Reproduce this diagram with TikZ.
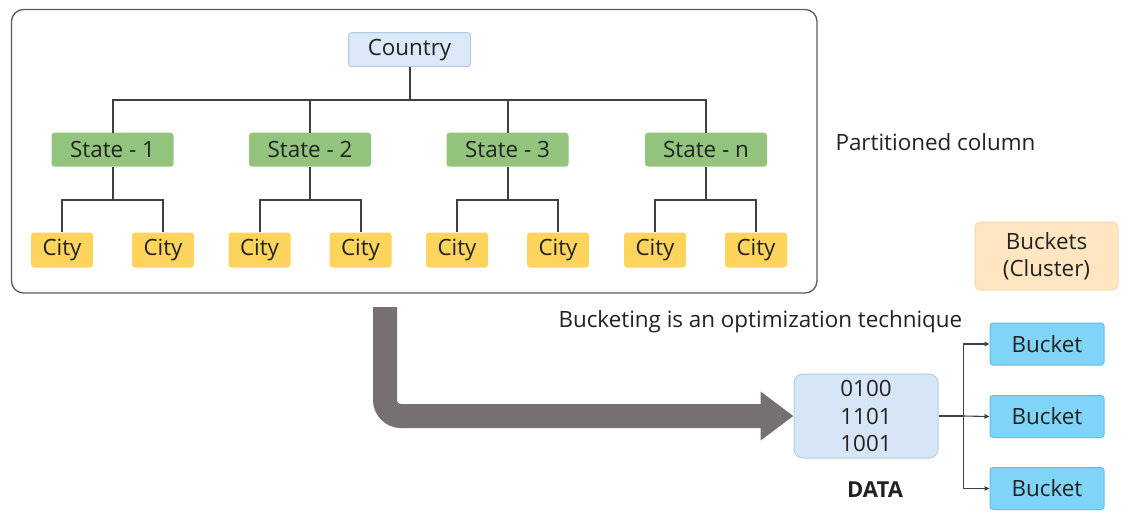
\documentclass[tikz,border=0pt]{standalone}
\usepackage{fontspec}
\setmainfont{Open Sans}
\usetikzlibrary{arrows.meta, positioning, calc}
\definecolor{framegray}{RGB}{90,90,90}
\definecolor{linegray}{RGB}{64,64,64}
\definecolor{textdark}{RGB}{34,34,34}
\definecolor{countryfill}{RGB}{218,232,248}
\definecolor{countryedge}{RGB}{176,203,232}
\definecolor{statefill}{RGB}{147,196,125}
\definecolor{cityfill}{RGB}{255,212,92}
\definecolor{clusterfill}{RGB}{255,230,192}
\definecolor{clusteredge}{RGB}{246,216,170}
\definecolor{datafill}{RGB}{214,230,246}
\definecolor{dataedge}{RGB}{180,205,230}
\definecolor{bucketfill}{RGB}{128,212,248}
\definecolor{bucketedge}{RGB}{96,190,235}
\definecolor{flowgray}{RGB}{118,113,112}

\tikzset{
    box/.style={inner sep=0pt, rounded corners=3pt, text=textdark, font=\fontsize{22.4}{26}\selectfont},
    countrybox/.style={box, fill=countryfill, draw=countryedge, line width=1pt, minimum width=122pt, minimum height=34pt},
    statebox/.style={box, fill=statefill, minimum width=122pt, minimum height=34pt},
    citybox/.style={box, fill=cityfill, minimum width=62pt, minimum height=35pt},
    bucketbox/.style={box, fill=bucketfill, draw=bucketedge, line width=1pt, minimum width=114pt, minimum height=42pt},
    tree/.style={linegray, line width=2pt},
    branch/.style={linegray, line width=1.1pt, -{Triangle[length=5pt, width=4.5pt]}}
}

\begin{document}
\begin{tikzpicture}[x=1pt, y=-1pt]
        \useasboundingbox (0,0) rectangle (1132,515);

        % Frame round the partition tree
        \draw[framegray, line width=1.3pt, rounded corners=12pt] (11.5,9.5) rectangle (817,293);

        % Tree nodes
        \node[countrybox] (country) at (409.5,49.7) {Country};

        \node[statebox] (state1) at (112.5,149.7) {State - 1};
        \node[statebox] (state2) at (310,149.7) {State - 2};
        \node[statebox] (state3) at (507.5,149.7) {State - 3};
        \node[statebox] (staten) at (706,149.7) {State - n};

        \node[citybox] (city1a) at (62,250) {City};
        \node[citybox] (city1b) at (163,250) {City};
        \node[citybox] (city2a) at (259.5,250) {City};
        \node[citybox] (city2b) at (360.5,250) {City};
        \node[citybox] (city3a) at (457,250) {City};
        \node[citybox] (city3b) at (558,250) {City};
        \node[citybox] (citya) at (655,250) {City};
        \node[citybox] (cityb) at (756,250) {City};

        % Country to states
        \draw[tree] (country.south) -- ++(0,32.3) -| (state1.north);
        \draw[tree] (country.south) -- ++(0,32.3) -| (state2.north);
        \draw[tree] (country.south) -- ++(0,32.3) -| (state3.north);
        \draw[tree] (country.south) -- ++(0,32.3) -| (staten.north);

        % States to cities
        \draw[tree] (state1.south) -- ++(0,32.6) -| (city1a.north);
        \draw[tree] (state1.south) -- ++(0,32.6) -| (city1b.north);
        \draw[tree] (state2.south) -- ++(0,32.6) -| (city2a.north);
        \draw[tree] (state2.south) -- ++(0,32.6) -| (city2b.north);
        \draw[tree] (state3.south) -- ++(0,32.6) -| (city3a.north);
        \draw[tree] (state3.south) -- ++(0,32.6) -| (city3b.north);
        \draw[tree] (staten.south) -- ++(0,32.6) -| (citya.north);
        \draw[tree] (staten.south) -- ++(0,32.6) -| (cityb.north);

        % Side labels
        \node[anchor=west, text=textdark, font=\fontsize{22.4}{26}\selectfont] (partlabel) at (832,142) {Partitioned column};
        \node[box, fill=clusterfill, draw=clusteredge, line width=1pt, rounded corners=6pt, minimum width=143pt, minimum height=68pt, align=center, font=\fontsize{22.4}{27}\selectfont] (cluster) at (1046.5,256) {Buckets\\(Cluster)};
        \node[anchor=west, text=textdark, font=\fontsize{22.4}{26}\selectfont] (bucketlabel) at (555,322) {Bucketing is an optimization technique};

        % Data and buckets
        \node[box, fill=datafill, draw=dataedge, line width=1pt, rounded corners=9pt, minimum width=144pt, minimum height=84pt, align=center, font=\fontsize{22.4}{27.5}\selectfont] (data) at (866,416) {0100\\1101\\1001};
        \node[text=textdark, font=\fontsize{22}{26}\selectfont\bfseries] (datalabel) at (875,490) {DATA};

        \node[bucketbox] (bucket1) at (1047,344) {Bucket};
        \node[bucketbox] (bucket2) at (1047,416.5) {Bucket};
        \node[bucketbox] (bucket3) at (1047,488.5) {Bucket};

        \draw[linegray, line width=1.1pt] (data.east) -- ++(25,0) coordinate (split);
        \draw[branch] (split) |- (bucket1.west);
        \draw[branch] (split) -- (bucket2.west);
        \draw[branch] (split) |- (bucket3.west);

        % Big flow arrow
        \coordinate (flowtop) at (385,307);
        \draw[flowgray, line width=24pt, rounded corners=16pt, -{Triangle[length=33pt, width=47pt]}] (flowtop) |- (data.west);
    \end{tikzpicture}
\end{document}
